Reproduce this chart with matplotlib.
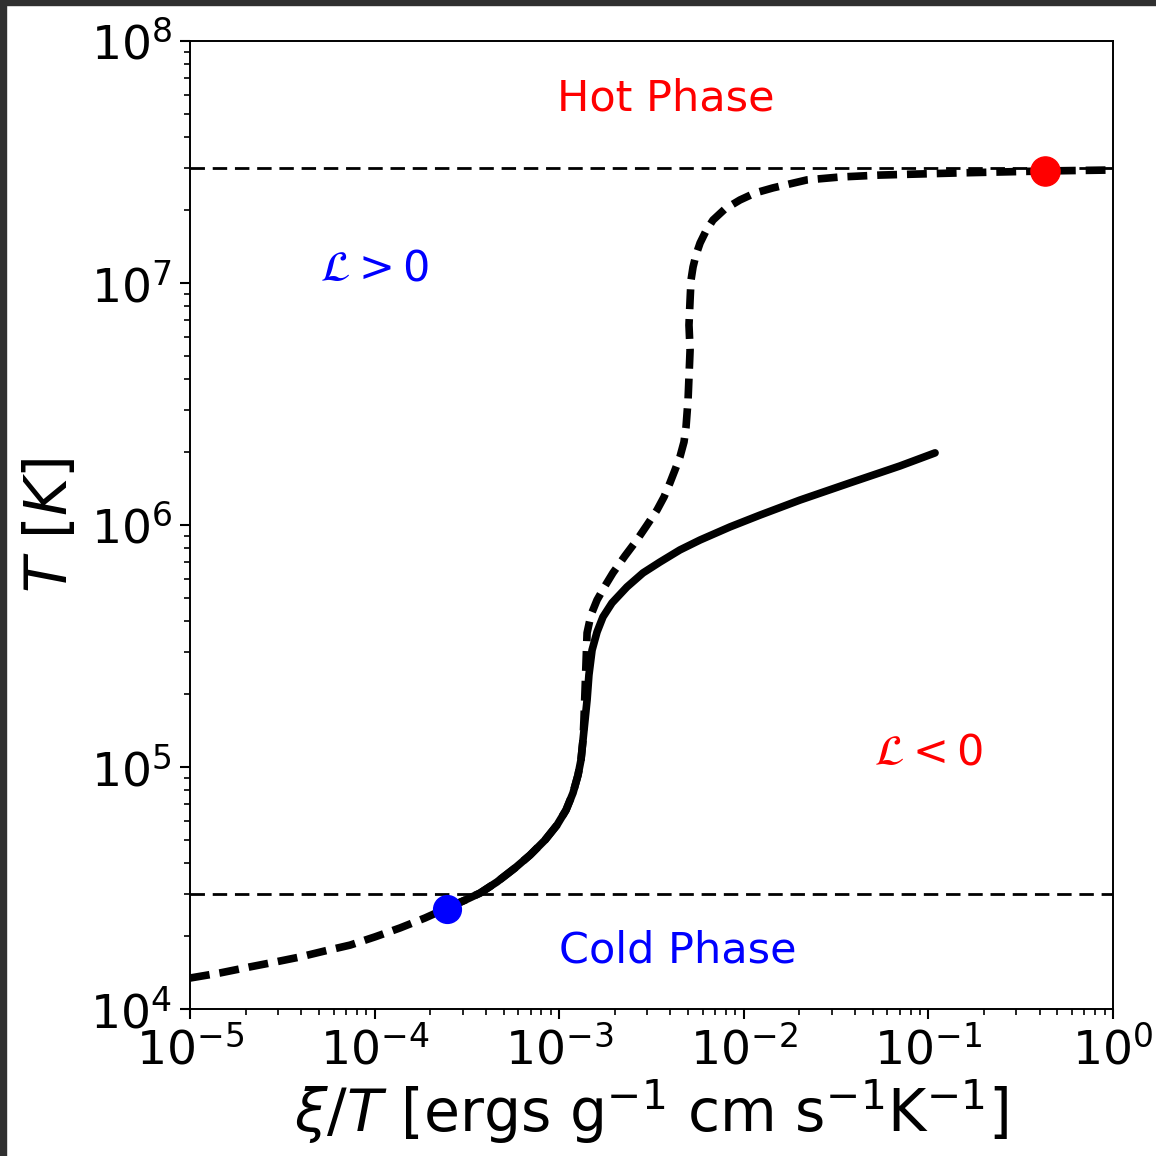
import numpy as np
import matplotlib
matplotlib.use("Agg")
from matplotlib import pyplot as plt
from matplotlib.patches import Rectangle

# equilibrium S-curve (dashed), log10 values
eq_logxi = [-5.000, -4.837, -4.675, -4.540, -4.404, -4.269, -4.133, -3.998, -3.862,
            -3.727, -3.608, -3.510, -3.429, -3.337, -3.239, -3.158, -3.077, -3.012,
            -2.963, -2.925, -2.898, -2.882, -2.871, -2.866, -2.860, -2.849, -2.828,
            -2.795, -2.752, -2.709, -2.644, -2.579, -2.524, -2.470, -2.432, -2.400,
            -2.373, -2.346, -2.324, -2.313, -2.302, -2.291, -2.297, -2.291, -2.286,
            -2.275, -2.259, -2.237, -2.205, -2.167, -2.102, -2.021, -1.939, -1.842,
            -1.658, -1.479, -1.262, -0.829, -0.363, 0.000]
eq_logT = [4.128, 4.149, 4.174, 4.194, 4.215, 4.240, 4.264, 4.298, 4.335,
           4.376, 4.417, 4.450, 4.479, 4.525, 4.583, 4.636, 4.698, 4.760,
           4.822, 4.893, 4.967, 5.029, 5.112, 5.194, 5.318, 5.554, 5.628,
           5.690, 5.748, 5.802, 5.872, 5.938, 6.000, 6.062, 6.116, 6.174,
           6.227, 6.281, 6.343, 6.405, 6.517, 6.723, 6.826, 6.930, 7.012,
           7.066, 7.116, 7.165, 7.215, 7.260, 7.306, 7.343, 7.372, 7.393,
           7.426, 7.438, 7.446, 7.455, 7.463, 7.467]

# actual track (solid)
tr_logxi = [-3.608, -3.510, -3.429, -3.337, -3.239, -3.158, -3.077, -3.012, -2.963,
            -2.925, -2.898, -2.882, -2.871, -2.860, -2.849, -2.839, -2.822, -2.795,
            -2.763, -2.714, -2.633, -2.546, -2.454, -2.346, -2.237, -2.075, -1.912,
            -1.696, -1.425, -1.154, -0.964]
tr_logT = [4.417, 4.450, 4.479, 4.525, 4.583, 4.636, 4.698, 4.760, 4.822,
           4.893, 4.967, 5.029, 5.112, 5.194, 5.277, 5.380, 5.483, 5.558,
           5.620, 5.678, 5.744, 5.802, 5.847, 5.897, 5.938, 5.992, 6.041,
           6.103, 6.174, 6.244, 6.298]

T_hot = 3e7
T_cold = 3e4
hot_pt = (0.43, 2.9e7)
cold_pt = (2.47e-4, 2.6e4)

fig = plt.figure(figsize=(11.56, 11.56), dpi=100)
ax = fig.add_axes([190/1156, 1-1009/1156, 923/1156, 968/1156])

ax.plot(10**np.array(eq_logxi), 10**np.array(eq_logT), color='k', lw=5.5,
        linestyle=(0, (2.6, 1.3)))
ax.plot(10**np.array(tr_logxi), 10**np.array(tr_logT), color='k', lw=5.5,
        solid_capstyle='round', solid_joinstyle='round')
ax.axhline(T_hot, color='k', lw=2, linestyle=(0, (5.2, 2.8)))
ax.axhline(T_cold, color='k', lw=2, linestyle=(0, (5.2, 2.8)))
ax.plot(*hot_pt, 'o', color='red', ms=21, zorder=5)
ax.plot(*cold_pt, 'o', color='blue', ms=20, zorder=5)

ax.set_xscale('log')
ax.set_yscale('log')
ax.set_xlim(1e-5, 1e0)
ax.set_ylim(1e4, 1e8)

ax.text(3.8e-3, 5.8e7, 'Hot Phase', color='red', fontsize=31, ha='center', va='center')
ax.text(4.4e-3, 1.74e4, 'Cold Phase', color='blue', fontsize=31, ha='center', va='center')
ax.text(1.0e-4, 1.15e7, r'$\mathcal{L} > 0$', color='blue', fontsize=31, ha='center', va='center')
ax.text(0.1, 1.15e5, r'$\mathcal{L} < 0$', color='red', fontsize=31, ha='center', va='center')

ax.set_xlabel(r'$\xi/T$ [ergs g$^{-1}$ cm s$^{-1}$K$^{-1}$]', fontsize=42, labelpad=2)
ax.set_ylabel(r'$T\ [K]$', fontsize=42, labelpad=8)
ax.tick_params(which='major', labelsize=34, length=7, width=1.5, pad=6)
ax.tick_params(which='minor', length=4.5, width=1.2)
for s in ax.spines.values():
    s.set_linewidth(1.4)

# dark frame from the screenshot
fig.patches.append(Rectangle((0, 1-5/1156), 1, 5/1156, transform=fig.transFigure,
                             color='#303030', zorder=10))
fig.patches.append(Rectangle((0, 0), 6/1156, 1, transform=fig.transFigure,
                             color='#303030', zorder=10))

fig.savefig('out.png', dpi=100)
